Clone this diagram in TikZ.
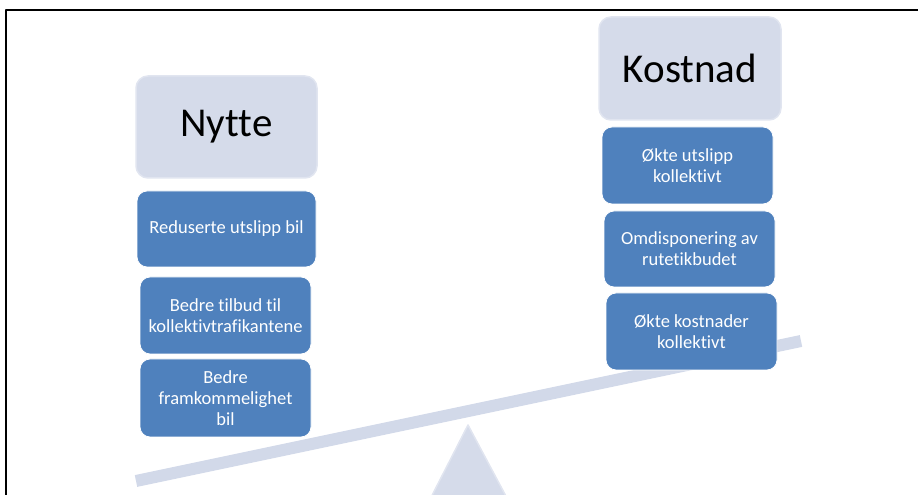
\documentclass[tikz,border=0pt]{standalone}
\usepackage{fontspec}
\setmainfont{Carlito}[Ligatures={NoCommon}]
\usepackage{xcolor}
\definecolor{boxblue}{RGB}{79,129,189}
\definecolor{paleblue}{RGB}{213,219,234}
\definecolor{paleedge}{RGB}{225,229,240}
\definecolor{beamblue}{RGB}{210,217,233}

\begin{document}
\begin{tikzpicture}[
                x=1pt, y=1pt,
                line join=round,
                headnode/.style={shape=rectangle, rounded corners=12pt, fill=paleblue, draw=paleedge, line width=1.5pt, minimum width=181pt, minimum height=102pt, inner sep=0pt, font=\fontsize{41}{44}\selectfont},
                itemnode/.style={shape=rectangle, rounded corners=10pt, fill=boxblue, draw=white, line width=0.8pt, minimum width=171pt, minimum height=77pt, inner sep=0pt, align=center, text=white, font=\fontsize{18.5}{21}\selectfont}
                ]
                \useasboundingbox (0,0) rectangle (918,495);
                \clip (0,0) rectangle (918,495);

                %% Frame
                \draw[line width=2pt] (918,485) -- (6,485) -- (6,-5);

                %% Scale
                \coordinate (beamleft) at (136,14);
                \coordinate (beamright) at (801,154);
                \draw[beamblue, line width=12pt] (beamleft) -- (beamright);
                \filldraw[fill=paleblue, draw=paleedge, line width=1.5pt] (468,70) -- (422,-20) -- (516,-20) -- cycle;

                %% Left side
                \node[headnode] (nytte) at (226.5,368) {Nytte};
                \node[itemnode, minimum width=179pt, minimum height=76pt] (utslippbil) at (226.5,266) {Reduserte utslipp bil};
                \node[itemnode] (tilbud) at (225.5,179.5) {Bedre tilbud til\\kollektivtrafikantene};
                \node[itemnode, minimum height=78pt] (framkommelighet) at (225.5,97) {Bedre\\framkommelighet\\bil};

                %% Right side
                \node[headnode, minimum width=182pt, minimum height=103pt] (kostnad) at (690,426.5) {Kostnad};
                \node[itemnode] (utslippkoll) at (687.5,329.5) {Økte utslipp\\kollektivt};
                \node[itemnode, minimum height=76pt] (omdisponering) at (689.5,246) {Omdisponering av\\rutetikbudet};
                \node[itemnode] (kostnader) at (691.5,163.5) {Økte kostnader\\kollektivt};
\end{tikzpicture}
\end{document}
